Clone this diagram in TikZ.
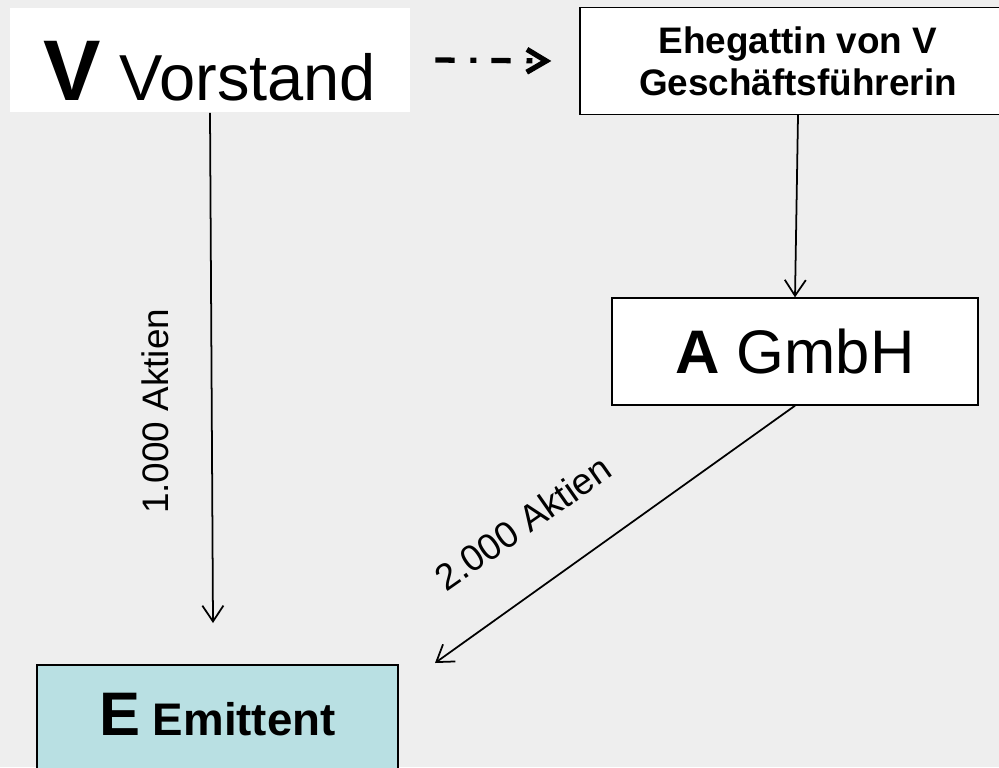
\documentclass[tikz,border=0pt]{standalone}
\usepackage{fontspec}
\setmainfont{Liberation Sans}
\usepackage{tikz}
\usetikzlibrary{positioning,calc,arrows.meta}
\definecolor{bggray}{HTML}{EEEEEE}
\definecolor{emitblue}{HTML}{B9E0E3}

\begin{document}
\begin{tikzpicture}[x=0.02cm,y=-0.02cm,
box/.style={rectangle,draw,line width=0.8pt,fill=white,inner sep=0pt,align=center},
edge/.style={-{Straight Barb[length=9pt,width=12pt]},line width=1pt},
dashedge/.style={-{Straight Barb[length=11pt,width=13pt]},line width=3pt,
  dash pattern=on 11pt off 9pt on 3.4pt off 8.5pt},
lbl/.style={font=\fontsize{21}{24}\selectfont}]

% background
\fill[bggray] (0,0) rectangle (999,767);
\useasboundingbox (0,0) rectangle (999,767);
\clip (0,0) rectangle (999,767);

% nodes
\node[rectangle,fill=white,inner sep=0pt,minimum width=8cm,minimum height=2.1cm,
  text height=46pt,text depth=0pt,font=\fontsize{37}{40}\selectfont](vorstand) at (210,60)
  {{\fontsize{49}{50}\selectfont\bfseries V} Vorstand};
\node[box,minimum width=8.72cm,minimum height=2.14cm,font=\fontsize{21}{24}\selectfont\bfseries](ehegattin) at (798,61)
  {Ehegattin von V\\Geschäftsführerin};
\node[box,minimum width=7.32cm,minimum height=2.14cm,font=\fontsize{35}{36}\selectfont](gmbh) at (795,351.5)
  {\textbf{A} GmbH};
\node[box,fill=emitblue,line width=1pt,minimum width=7.22cm,minimum height=2.2cm,
  text depth=0.22cm,font=\fontsize{26}{28}\selectfont\bfseries](emittent) at (217.5,720)
  {{\fontsize{35}{36}\selectfont E} Emittent};

% free ends
\coordinate (vend) at (213,623);
\coordinate (gend) at (435,663);

% connectors
\draw[dashedge] ($(vorstand.east)+(25,0)$) -- ($(ehegattin.west)+(-28,0)$);
\draw[edge] (ehegattin.south) -- (gmbh.north);
\draw[edge] (vorstand.south) -- (vend) node[pos=0.585,xshift=-1.12cm,lbl,rotate=90] {1.000 Aktien};
\draw[edge] (gmbh.south) -- (gend);

% labels
\node[lbl,rotate=35](aktien2) at (523,523) {2.000 Aktien};
\end{tikzpicture}
\end{document}
